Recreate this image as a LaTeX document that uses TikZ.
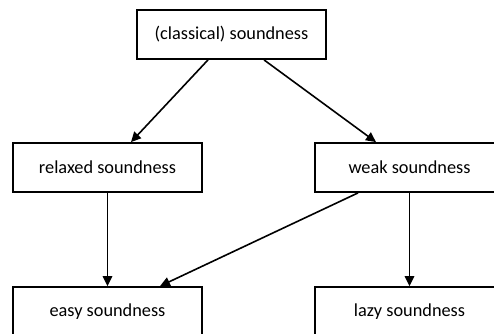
\documentclass[tikz,border=0pt]{standalone}
\usepackage{fontspec}
\setmainfont{Carlito}
\usetikzlibrary{arrows.meta}
\begin{document}
\begin{tikzpicture}[x=1pt,y=-1pt,
  box/.style={draw, line width=1.8pt, minimum width=189pt, minimum height=49pt,
    inner sep=0pt, font=\fontsize{18.3}{22}\selectfont},
  arr/.style={line width=1.6pt, -{Triangle[length=10pt,width=9.5pt]}}]
\useasboundingbox (0,0) rectangle (494,333);
\clip (0,0) rectangle (494,333);
% soundness notions, strongest at the top
\node[box] (classical) at (231.5,34.5) {(classical) soundness};
\node[box] (relaxed) at (107.5,167.5) {relaxed soundness};
\node[box] (weak) at (409.5,167.5) {weak soundness};
\node[box] (easy) at (107.5,311.5) {easy soundness};
\node[box] (lazy) at (409.5,311.5) {lazy soundness};
% implications between the notions
\draw[arr] ([xshift=-23.5pt]classical.south) -- ([xshift=23.5pt]relaxed.north);
\draw[arr] ([xshift=32.5pt]classical.south) -- ([xshift=-33.5pt]weak.north);
\draw[arr] (relaxed.south) -- (easy.north);
\draw[arr] ([xshift=-51.5pt]weak.south) -- ([xshift=52.5pt]easy.north);
\draw[arr] (weak.south) -- (lazy.north);
\end{tikzpicture}
\end{document}
